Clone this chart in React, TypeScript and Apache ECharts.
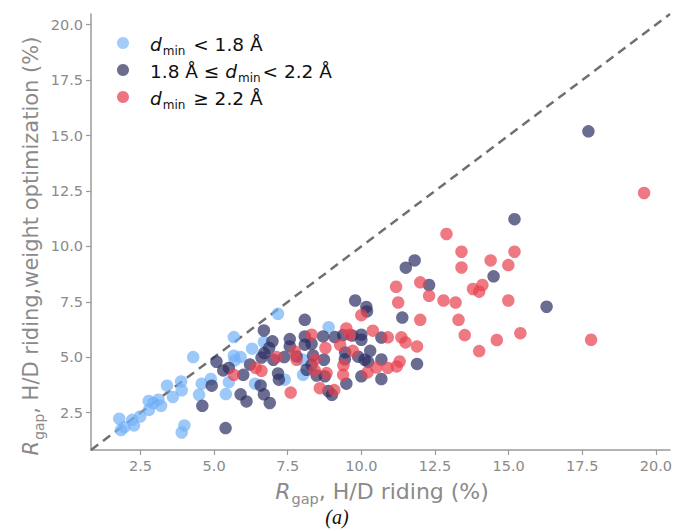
import React, { useEffect, useRef } from "react";
import * as echarts from "echarts";

// Shared limits of both axes (the parity line runs corner to corner)
const axisMin = 0.82;
const axisMax = 20.48;
const tickValues = [2.5, 5, 7.5, 10, 12.5, 15, 17.5, 20];

// [R_gap H/D riding, R_gap H/D riding + weight optimization] in %
const shortDmin: number[][] = [
  [1.78, 2.23], [1.84, 1.72], [1.95, 1.85], [2.22, 2.18], [2.28, 1.93], [2.49, 2.33],
  [2.79, 2.63], [2.78, 3.03], [2.94, 2.94], [3.11, 3.09], [3.2, 2.81], [3.4, 3.72],
  [3.6, 3.21], [3.88, 3.91], [3.9, 3.51], [3.99, 1.93], [3.9, 1.61], [4.29, 5.01],
  [4.58, 3.81], [4.89, 4.02], [4.49, 3.31], [5.4, 3.34], [5.5, 3.88], [5.67, 5.91],
  [5.67, 5.07], [5.9, 5.01], [5.7, 4.86], [6.29, 5.39], [6.69, 5.69], [7.17, 6.96],
  [6.39, 3.81], [7.4, 3.99], [8.02, 4.21], [8.02, 4.89], [8.89, 6.36],
];

const midDmin: number[][] = [
  [4.6, 2.81], [4.92, 3.72], [5.08, 4.8], [5.31, 4.41], [5.5, 4.52], [5.39, 1.81],
  [5.99, 4.21], [6.22, 4.67], [5.9, 3.33], [6.1, 3.01], [6.58, 3.73], [6.69, 3.33],
  [6.89, 2.94], [6.69, 6.21], [6.98, 5.72], [6.87, 5.42], [6.7, 5.19], [6.61, 4.99],
  [7.01, 4.89], [7.17, 4.27], [7.2, 3.99], [7.38, 5.01], [7.57, 5.82], [7.57, 5.49],
  [7.8, 5.04], [8.08, 6.69], [8.08, 5.94], [8.08, 5.57], [8.31, 5.61], [8.36, 5.08],
  [8.31, 4.66], [8.14, 4.44], [8.48, 4.18], [8.76, 4.14], [8.7, 5.94], [8.73, 4.89],
  [8.88, 3.48], [9.0, 3.31], [9.1, 5.91], [9.38, 6.0], [9.69, 5.98], [10.0, 6.02],
  [10.0, 5.79], [9.45, 5.22], [9.44, 4.91], [9.89, 5.03], [10.11, 4.89], [10.3, 5.29],
  [10.23, 4.79], [10.68, 5.89], [10.68, 4.9], [10.68, 4.02], [10.0, 4.14], [9.49, 3.81],
  [9.79, 7.56], [10.17, 7.27], [10.19, 7.07], [11.39, 6.79], [11.51, 9.04], [11.81, 9.37],
  [12.3, 8.26], [11.89, 4.7], [14.49, 8.65], [15.2, 11.23], [16.29, 7.28], [17.71, 15.19],
];

const longDmin: number[][] = [
  [5.67, 4.21], [6.41, 4.52], [6.61, 4.39], [7.12, 5.01], [7.6, 3.41], [7.74, 5.26],
  [7.8, 4.89], [8.31, 6.02], [8.42, 4.89], [8.42, 4.41], [8.59, 3.61], [8.78, 5.42],
  [8.82, 4.29], [9.08, 3.52], [9.28, 5.56], [9.39, 4.64], [9.38, 4.21], [9.49, 6.3],
  [9.61, 6.02], [9.71, 5.29], [10.0, 6.9], [10.39, 6.2], [10.21, 4.32], [10.51, 4.54],
  [10.9, 4.52], [11.2, 4.59], [11.3, 4.81], [10.9, 5.9], [11.36, 5.9], [11.5, 5.67],
  [11.89, 5.49], [11.18, 8.18], [11.25, 7.47], [12.0, 8.38], [12.3, 7.77], [12.0, 6.69],
  [12.79, 7.56], [12.89, 10.56], [13.2, 7.47], [13.3, 6.69], [13.4, 9.76], [13.4, 9.05],
  [13.51, 6.0], [13.79, 8.08], [14.0, 7.96], [14.11, 8.26], [14.0, 5.28], [14.39, 9.37],
  [14.6, 5.78], [14.99, 9.16], [15.2, 9.76], [14.99, 7.56], [15.4, 6.09], [17.8, 5.79],
  [19.6, 12.41],
];

const parityLine: number[][] = [
  [axisMin, axisMin],
  [axisMax, axisMax],
];

const groupColors = ["#74b0f8", "#2c2e62", "#e8404f"];
const legendColors = ["#a6cbf8", "#6c6d8c", "#ee7580"];
const legendTexts = [
  "{i|d}{s|min}{n| < 1.8 Å}",
  "{n|1.8 Å ≤ }{i|d}{s|min}{n|< 2.2 Å}",
  "{i|d}{s|min}{n| ≥ 2.2 Å}",
];

const sans = "DejaVu Sans";
const axisGray = "#9a9a9a";
const labelGray = "#8a8a8a";

const legendRich = {
  n: { fontFamily: sans, fontSize: 18.5, fill: "#111", lineHeight: 26, verticalAlign: "middle" },
  i: { fontFamily: sans, fontStyle: "italic", fontSize: 18.5, fill: "#111", lineHeight: 26, verticalAlign: "middle" },
  s: { fontFamily: sans, fontSize: 12, fill: "#111", lineHeight: 12, verticalAlign: "bottom", padding: [0, 2, 0, 1] },
};

function titleRich(size: number) {
  return {
    n: { fontFamily: sans, fontSize: size, fill: labelGray, lineHeight: size * 1.45, verticalAlign: "middle" },
    i: { fontFamily: sans, fontStyle: "italic", fontSize: size, fill: labelGray, lineHeight: size * 1.45, verticalAlign: "middle" },
    s: { fontFamily: sans, fontSize: size * 0.66, fill: labelGray, lineHeight: size * 0.66, verticalAlign: "bottom", padding: [0, 0, 0, 1] },
  };
}

function valueAxis() {
  return {
    type: "value",
    min: axisMin,
    max: axisMax,
    splitLine: { show: false },
    axisLine: { show: true, lineStyle: { color: axisGray, width: 1.5 } },
    axisTick: {
      show: true,
      length: 5,
      customValues: tickValues,
      lineStyle: { color: axisGray, width: 1.2 },
    },
    axisLabel: {
      customValues: tickValues,
      formatter: (v: number) => v.toFixed(1),
      color: labelGray,
      fontFamily: sans,
      fontSize: 14.5,
      margin: 8,
    },
  };
}

export default function App() {
  const ref = useRef<HTMLDivElement>(null);

  useEffect(() => {
    if (!ref.current) return;
    const chart = echarts.init(ref.current, undefined, { renderer: "svg" });

    const scatter = (data: number[][], color: string) => ({
      type: "scatter",
      data,
      symbol: "circle",
      symbolSize: 12.5,
      itemStyle: { color, opacity: 0.7 },
      z: 3,
    });

    const legendItems: any[] = [];
    legendTexts.forEach((t, k) => {
      const cy = 43 + k * 27;
      legendItems.push({
        type: "circle",
        shape: { cx: 123, cy, r: 6 },
        style: { fill: legendColors[k] },
      });
      legendItems.push({
        type: "text",
        x: 150,
        y: cy + 1,
        style: { text: t, rich: legendRich, align: "left", verticalAlign: "middle" },
      });
    });

    chart.setOption({
      animation: false,
      backgroundColor: "#ffffff",
      grid: { left: 91, right: 4, top: 14, bottom: 81 },
      xAxis: valueAxis(),
      yAxis: valueAxis(),
      series: [
        {
          type: "line",
          data: parityLine,
          symbol: "none",
          lineStyle: { color: "#707070", width: 2.5, type: [9, 6] },
          z: 2,
        },
        scatter(shortDmin, groupColors[0]),
        scatter(midDmin, groupColors[1]),
        scatter(longDmin, groupColors[2]),
      ],
      graphic: [
        ...legendItems,
        {
          type: "text",
          x: 382,
          y: 491,
          style: {
            text: "{i|R}{s|gap}{n|, H/D riding (%)}",
            rich: titleRich(22),
            align: "center",
            verticalAlign: "middle",
          },
        },
        {
          type: "text",
          x: 31,
          y: 246,
          rotation: Math.PI / 2,
          style: {
            text: "{i|R}{s|gap}{n|, H/D riding,weight optimization (%)}",
            rich: titleRich(21),
            align: "center",
            verticalAlign: "middle",
          },
        },
        {
          type: "text",
          x: 337,
          y: 517,
          style: {
            text: "(a)",
            fontFamily: "Liberation Serif",
            fontStyle: "italic",
            fontSize: 20,
            fill: "#111",
            align: "center",
            verticalAlign: "middle",
          },
        },
      ],
    });

    return () => chart.dispose();
  }, []);

  return (
    <div
      ref={ref}
      style={{ position: "fixed", left: 0, top: 0, width: 675, height: 531, background: "#fff" }}
    />
  );
}
